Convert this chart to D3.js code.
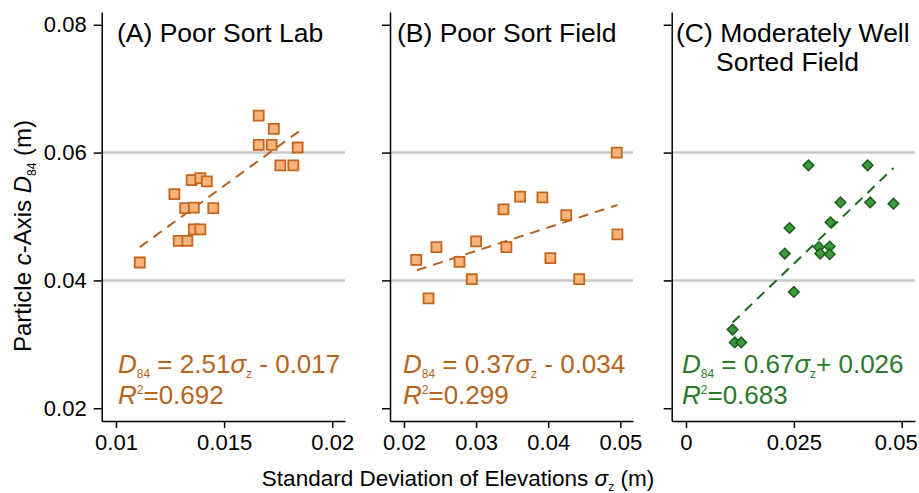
<!DOCTYPE html>
<html lang="en">
<head>
<meta charset="utf-8">
<script src="https://d3js.org/d3.v7.min.js"></script>
<style>
  body { margin: 0; background: #fff; }
  text { font-family: "Liberation Sans", Arial, sans-serif; }
  .grid { stroke: #c9c9c9; stroke-width: 2.5px; }
  .axis path, .axis line { stroke: #000; stroke-width: 1.5px; }
  .axis text { font-size: 22px; fill: #000; font-family: "Liberation Sans", Arial, sans-serif; }
  .fit { fill: none; stroke-width: 2px; stroke-dasharray: 10,7; }
</style>
</head>
<body>
<svg width="919" height="493" id="chart"></svg>
<script>
  // ---- data ----
  // (A) poor sort lab
  const xA = [0.0111, 0.0129, 0.0133, 0.0136, 0.0139, 0.0127, 0.0132, 0.0136, 0.0145, 0.0135,
              0.0139, 0.0142, 0.0166, 0.0173, 0.0166, 0.0172, 0.0184, 0.0176, 0.0182];
  const yA = [0.0428, 0.0462, 0.0462, 0.0480, 0.0480, 0.0535, 0.0513, 0.0514, 0.0513, 0.0557,
              0.0560, 0.0555, 0.0658, 0.0637, 0.0612, 0.0612, 0.0608, 0.0580, 0.0580];
  // (B) poor sort field
  const xB = [0.0217, 0.0234, 0.0245, 0.0277, 0.0294, 0.0300, 0.0338, 0.0342, 0.0361, 0.0392,
              0.0403, 0.0425, 0.0443, 0.0495, 0.0496];
  const yB = [0.0432, 0.0372, 0.0452, 0.0429, 0.0402, 0.0461, 0.0511, 0.0452, 0.0531, 0.0530,
              0.0435, 0.0502, 0.0402, 0.0600, 0.0472];
  // (C) moderately well sorted field
  const xC = [0.0284, 0.0421, 0.0358, 0.0427, 0.0481, 0.0335, 0.0240, 0.0229, 0.0308, 0.0333,
              0.0311, 0.0333, 0.0250, 0.0108, 0.0113, 0.0128];
  const yC = [0.0580, 0.0580, 0.0522, 0.0522, 0.0520, 0.0491, 0.0482, 0.0442, 0.0452, 0.0453,
              0.0442, 0.0441, 0.0382, 0.0323, 0.0303, 0.0303];

  // dashed fit lines, start and end points
  const fitA = [[0.0111, 0.0452], [0.01845, 0.0633]];
  const fitB = [[0.0218, 0.0416], [0.0496, 0.0518]];
  const fitC = [[0.0108, 0.0334], [0.0481, 0.0576]];

  const slopes = ["2.51", "0.37", "0.67"];
  const intercepts = [" - 0.017", " - 0.034", "+ 0.026"];
  const r2 = ["0.692", "0.299", "0.683"];

  const titles = [["(A) Poor Sort Lab"], ["(B) Poor Sort Field"], ["(C) Moderately Well", "Sorted Field"]];

  const ticksA = [0.01, 0.015, 0.02];
  const ticksB = [0.02, 0.03, 0.04, 0.05];
  const ticksC = [0, 0.025, 0.05];
  const yTicks = [0.02, 0.04, 0.06, 0.08];
  const gridLines = [0.04, 0.06];

  // ---- layout ----
  const svg = d3.select("svg#chart");
  const plotTop = 12, plotBottom = 421;
  const orange = {fill: "#f7b47a", stroke: "#c4661d", line: "#b5601c", text: "#b8631c"};
  const green = {fill: "#3d9a3d", stroke: "#1b5f1b", line: "#1d6a1d", text: "#2a7a2a"};

  const y = d3.scaleLinear().domain([0.018, 0.082]).range([plotBottom, plotTop]);

  const panels = [
    {x: xA, y: yA, fit: fitA, ticks: ticksA, left: 101.7, right: 345, domain: [0.00934, 0.02059],
     col: orange, shape: "square", titleX: [117], eqX: 118},
    {x: xB, y: yB, fit: fitB, ticks: ticksB, left: 390, right: 633, domain: [0.01806, 0.05176],
     col: orange, shape: "square", titleX: [397], eqX: 403},
    {x: xC, y: yC, fit: fitC, ticks: ticksC, left: 671.7, right: 915, domain: [-0.00331, 0.05308],
     col: green, shape: "diamond", titleX: [676, 716], eqX: 682}
  ];

  panels.forEach((p, i) => {
    const x = d3.scaleLinear().domain(p.domain).range([p.left, p.right]);
    const g = svg.append("g");

    // grey reference lines
    g.selectAll("line.grid").data(gridLines).enter()
      .append("line")
      .attr("class", "grid")
      .attr("x1", p.left).attr("x2", p.right)
      .attr("y1", d => y(d)).attr("y2", d => y(d));

    // axes
    const yAxis = d3.axisLeft(y).tickValues(yTicks).tickSizeInner(8).tickSizeOuter(0).tickPadding(7)
      .tickFormat(i === 0 ? d => String(d) : () => "");
    g.append("g").attr("class", "axis")
      .attr("transform", "translate(" + p.left + ",0)")
      .call(yAxis);

    const xAxis = d3.axisBottom(x).tickValues(p.ticks).tickSizeInner(7).tickSizeOuter(0).tickPadding(6)
      .tickFormat(d => String(d));
    const xg = g.append("g").attr("class", "axis")
      .attr("transform", "translate(0," + plotBottom + ")")
      .call(xAxis);
    // last label of the right-most panel sits at the page edge
    if (i === 2) {
      xg.selectAll(".tick text").filter((d, k, n) => k === n.length - 1).attr("dx", -6);
    }

    // fit line
    g.append("path")
      .datum(p.fit)
      .attr("class", "fit")
      .attr("stroke", p.col.line)
      .attr("d", d3.line().x(d => x(d[0])).y(d => y(d[1])));

    // points
    const pts = p.x.map((v, k) => [v, p.y[k]]);
    const sym = d3.symbol().type(d3.symbolSquare).size(p.shape === "square" ? 100 : 56);
    g.selectAll("path.pt").data(pts).enter()
      .append("path")
      .attr("class", "pt")
      .attr("d", sym)
      .attr("transform", d => "translate(" + x(d[0]) + "," + y(d[1]) + ")" + (p.shape === "diamond" ? " rotate(45)" : ""))
      .attr("fill", p.col.fill)
      .attr("stroke", p.col.stroke)
      .attr("stroke-width", p.shape === "square" ? 1.8 : 1.5);

    // panel title
    titles[i].forEach((t, k) => {
      g.append("text")
        .attr("x", p.titleX[k])
        .attr("y", 42 + k * 29)
        .style("font-size", "26.5px")
        .attr("fill", "#000")
        .text(t);
    });

    // regression equation
    const eq = g.append("text")
      .attr("x", p.eqX).attr("y", 373)
      .attr("fill", p.col.text)
      .style("font-size", "26px");
    eq.append("tspan").style("font-style", "italic").text("D");
    eq.append("tspan").attr("dy", 5).style("font-size", "12px").text("84");
    eq.append("tspan").attr("dy", -5).text(" = " + slopes[i]);
    eq.append("tspan").style("font-style", "italic").text("σ");
    eq.append("tspan").attr("dy", 5).style("font-size", "12px").text("z");
    eq.append("tspan").attr("dy", -5).text(intercepts[i]);

    const rt = g.append("text")
      .attr("x", p.eqX).attr("y", 404)
      .attr("fill", p.col.text)
      .style("font-size", "26px");
    rt.append("tspan").style("font-style", "italic").text("R");
    rt.append("tspan").attr("dy", -10).style("font-size", "12px").text("2");
    rt.append("tspan").attr("dy", 10).text("=" + r2[i]);
  });

  // axis titles
  const yt = svg.append("text")
    .attr("transform", "translate(31,236) rotate(-90)")
    .attr("text-anchor", "middle")
    .style("font-size", "24px");
  yt.append("tspan").text("Particle ");
  yt.append("tspan").style("font-style", "italic").text("c");
  yt.append("tspan").text("-Axis ");
  yt.append("tspan").style("font-style", "italic").text("D");
  yt.append("tspan").attr("dy", 5).style("font-size", "12px").text("84");
  yt.append("tspan").attr("dy", -5).text(" (m)");

  const xt = svg.append("text")
    .attr("x", 458).attr("y", 486)
    .attr("text-anchor", "middle")
    .style("font-size", "22.5px");
  xt.append("tspan").text("Standard Deviation of Elevations ");
  xt.append("tspan").style("font-style", "italic").text("σ");
  xt.append("tspan").attr("dy", 5).style("font-size", "12px").text("z");
  xt.append("tspan").attr("dy", -5).text(" (m)");
</script>
</body>
</html>
